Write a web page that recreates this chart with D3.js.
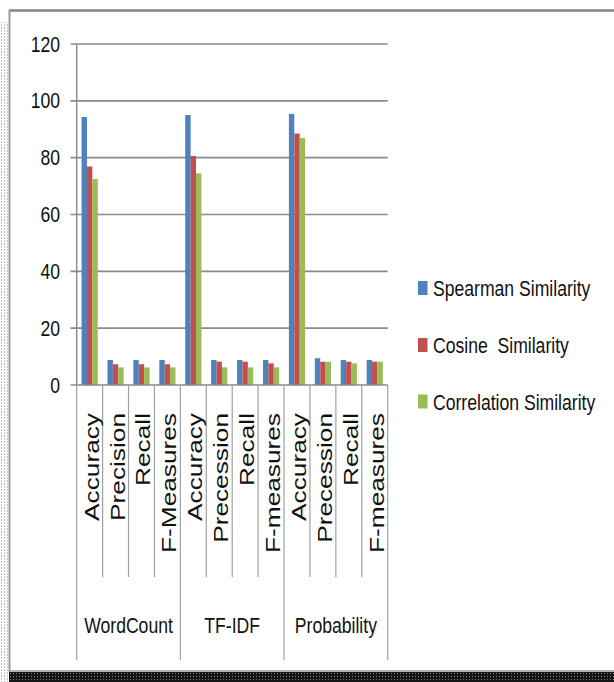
<!DOCTYPE html>
<html>
<head>
<meta charset="utf-8">
<script src="https://cdn.jsdelivr.net/npm/d3@7"></script>
<style>
  html, body { margin: 0; padding: 0; background: #fff; }
  svg { display: block; }
  text { font-family: "Liberation Sans", Arial, sans-serif; fill: #111; white-space: pre; }
</style>
</head>
<body>
<svg id="chart" width="614" height="682"></svg>
<script>
// ---- data ----
const groups = ["WordCount", "TF-IDF", "Probability"];
const categories = [
  "Accuracy", "Precision", "Recall", "F-Measures",
  "Accuracy", "Precession", "Recall", "F-measures",
  "Accuracy", "Precession", "Recall", "F-measures"
];
const categoryGroup = [0,0,0,0,1,1,1,1,2,2,2,2];
const seriesNames = ["Spearman Similarity", "Cosine  Similarity", "Correlation Similarity"];
const spearman    = [94.3, 8.8, 8.8, 8.8, 95.0, 8.8, 8.8, 8.8, 95.4, 9.4, 8.8, 8.8];
const cosine      = [76.9, 7.3, 7.3, 7.3, 80.6, 8.2, 8.2, 7.6, 88.5, 8.2, 8.2, 8.2];
const correlation = [72.5, 6.2, 6.2, 6.2, 74.5, 6.2, 6.2, 6.2, 86.9, 8.2, 7.6, 8.2];
const yTicks = [0, 20, 40, 60, 80, 100, 120];
const colors = ["#4F81BD", "#C0504D", "#9BBB59"];

const seriesValues = [spearman, cosine, correlation];

const svg = d3.select("#chart");

// ---- frame ----
const defs = svg.append("defs");
const pat = defs.append("pattern").attr("id", "dots").attr("width", 3).attr("height", 3)
  .attr("patternUnits", "userSpaceOnUse");
pat.append("rect").attr("width", 3).attr("height", 3).attr("fill", "#ffffff");
pat.append("rect").attr("x", 1).attr("y", 0).attr("width", 1).attr("height", 2).attr("fill", "#c4c4c4");
const patDark = defs.append("pattern").attr("id", "darkdots").attr("width", 3).attr("height", 3)
  .attr("patternUnits", "userSpaceOnUse");
patDark.append("rect").attr("width", 3).attr("height", 3).attr("fill", "#151515");
patDark.append("rect").attr("x", 1).attr("y", 1).attr("width", 1).attr("height", 1).attr("fill", "#7a7a7a");

svg.append("rect").attr("x", 0).attr("y", 22).attr("width", 8).attr("height", 660).attr("fill", "url(#dots)");
svg.append("rect").attr("x", 9).attr("y", 672).attr("width", 605).attr("height", 10).attr("fill", "url(#darkdots)");
svg.append("line").attr("x1", 9).attr("x2", 614).attr("y1", 671).attr("y2", 671).attr("stroke", "#9a9a9a").attr("stroke-width", 1.5);
svg.append("line").attr("x1", 9).attr("x2", 614).attr("y1", 10.5).attr("y2", 10.5).attr("stroke", "#858585").attr("stroke-width", 2.5);
svg.append("line").attr("x1", 9.5).attr("x2", 9.5).attr("y1", 10).attr("y2", 672).attr("stroke", "#9a9a9a").attr("stroke-width", 2);

// ---- scales ----
const x0 = d3.scaleBand().domain(d3.range(categories.length)).range([76.7, 387.7]).padding(0);
const x1 = d3.scaleBand().domain(d3.range(seriesValues.length)).range([0, x0.bandwidth()])
  .paddingInner(0).paddingOuter(0.9);
const y = d3.scaleLinear().domain([0, 120]).range([385, 44]);

const gridColor = "#8a8a8a";

// gridlines (including outward tick)
svg.append("g").selectAll("line").data(yTicks.filter(t => t > 0)).join("line")
  .attr("x1", 70.5).attr("x2", 387.7)
  .attr("y1", d => y(d)).attr("y2", d => y(d))
  .attr("stroke", gridColor).attr("stroke-width", 1.6);

// y axis line
svg.append("line").attr("x1", 76.7).attr("x2", 76.7).attr("y1", y(120)).attr("y2", y(0))
  .attr("stroke", gridColor).attr("stroke-width", 1.4);

// y tick labels
svg.append("g").selectAll("text").data(yTicks).join("text")
  .attr("transform", d => `translate(60,${y(d) + 7.5}) scale(0.8,1)`)
  .attr("text-anchor", "end").attr("font-size", 22)
  .text(d => d);

// bars
const barG = svg.append("g");
seriesValues.forEach((vals, si) => {
  barG.append("g").attr("fill", colors[si]).selectAll("rect").data(vals).join("rect")
    .attr("x", (d, i) => x0(i) + x1(si))
    .attr("width", x1.bandwidth())
    .attr("y", d => y(d))
    .attr("height", d => y(0) - y(d));
});

// category axis baseline
svg.append("line").attr("x1", 70.5).attr("x2", 387.7).attr("y1", y(0)).attr("y2", y(0))
  .attr("stroke", gridColor).attr("stroke-width", 1.6);

// category separators
const boundaries = d3.range(categories.length + 1);
svg.append("g").selectAll("line").data(boundaries).join("line")
  .attr("x1", i => i < categories.length ? x0(i) : x0.range()[1])
  .attr("x2", i => i < categories.length ? x0(i) : x0.range()[1])
  .attr("y1", y(0))
  .attr("y2", i => (i % 4 === 0) ? 660 : 577)
  .attr("stroke", "#a0a0a0").attr("stroke-width", 1.2);

// category labels (rotated)
svg.append("g").selectAll("text").data(categories).join("text")
  .attr("transform", (d, i) => `translate(${x0(i) + x0.bandwidth() / 2 + 9},413) rotate(-90) scale(1.25,1)`)
  .attr("text-anchor", "end").attr("font-size", 21)
  .text(d => d);

// group labels
svg.append("g").selectAll("text").data(groups).join("text")
  .attr("transform", (d, gi) => {
    const idx = categoryGroup.map((g, i) => g === gi ? i : -1).filter(i => i >= 0);
    const cx = (x0(idx[0]) + x0(idx[idx.length - 1]) + x0.bandwidth()) / 2;
    return `translate(${cx},633) scale(0.8,1)`;
  })
  .attr("text-anchor", "middle").attr("font-size", 22)
  .text(d => d);

// legend
const legendY = [288, 345, 401.5];
const lg = svg.append("g").selectAll("g").data(seriesNames).join("g");
lg.append("rect").attr("x", 418).attr("y", (d, i) => legendY[i] - 7).attr("width", 9.5).attr("height", 14)
  .attr("fill", (d, i) => colors[i]);
lg.append("text")
  .attr("transform", (d, i) => `translate(433,${legendY[i] + 8}) scale(0.8,1)`)
  .attr("font-size", 22)
  .text(d => d);
</script>
</body>
</html>
